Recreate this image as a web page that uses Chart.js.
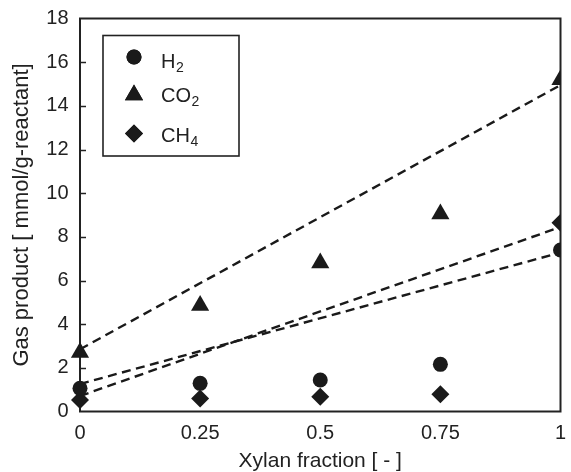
<!DOCTYPE html>
<html>
<head>
<meta charset="utf-8">
<script src="https://cdn.jsdelivr.net/npm/chart.js@4.4.1/dist/chart.umd.min.js"></script>
<style>
  html, body { margin: 0; padding: 0; background: #fff; }
  #wrap { width: 571px; height: 472px; }
</style>
</head>
<body>
<div id="wrap"><canvas id="c" width="571" height="472"></canvas></div>
<script>
// ---- data ----
const xylanFraction = [0, 0.25, 0.5, 0.75, 1];
const h2  = [1.06, 1.29, 1.44, 2.16, 7.4];
const co2 = [2.7, 4.86, 6.8, 9.05, 15.2];
const ch4 = [0.53, 0.6, 0.68, 0.79, 8.65];
// dashed model lines (values at x = 0 and x = 1)
const lineX = [0, 1];
const h2Line  = [1.26, 7.28];
const co2Line = [2.85, 14.95];
const ch4Line = [0.71, 8.45];
const xTicks = [0, 0.25, 0.5, 0.75, 1];
const xTickLabels = ['0', '0.25', '0.5', '0.75', '1'];
const yTicks = [0, 2, 4, 6, 8, 10, 12, 14, 16, 18];
const seriesNames = ['H|2', 'CO|2', 'CH|4'];
const xTitle = 'Xylan fraction [ - ]';
const yTitle = 'Gas product [ mmol/g-reactant]';

const INK = '#1a1a1a';
const FONT = '"Liberation Sans", Arial, Helvetica, sans-serif';

function pts(xs, ys) { return xs.map((x, i) => ({ x: x, y: ys[i] })); }

const markerDefs = [
  { style: 'circle', radius: 7.5 },
  { style: 'triangle', radius: 10.5 },
  { style: 'rectRot', radius: 9 }
];

function pointSet(label, data, m) {
  return {
    type: 'scatter', label: label, data: pts(xylanFraction, data),
    pointStyle: m.style, pointRadius: m.radius, pointHoverRadius: m.radius,
    pointBackgroundColor: INK, pointBorderColor: INK, pointBorderWidth: 0,
    showLine: false, clip: { left: false, top: false, right: 0, bottom: false }, order: 0
  };
}
function lineSet(label, data) {
  return {
    type: 'line', label: label, data: pts(lineX, data),
    borderColor: INK, borderWidth: 2.4, borderDash: [9, 5.5],
    pointRadius: 0, fill: false, tension: 0, order: 1
  };
}

const frame = {
  id: 'frame',
  beforeDatasetsDraw(chart) {
    const a = chart.chartArea, ctx = chart.ctx, y = chart.scales.y;
    ctx.save();
    ctx.strokeStyle = '#222';
    ctx.lineWidth = 2;
    ctx.strokeRect(a.left, a.top, a.right - a.left, a.bottom - a.top);
    ctx.lineWidth = 1.5;
    yTicks.forEach(v => {
      if (v === yTicks[0] || v === yTicks[yTicks.length - 1]) return;
      const py = Math.round(y.getPixelForValue(v)) + 0.5;
      ctx.beginPath();
      ctx.moveTo(a.left, py);
      ctx.lineTo(a.left + 6, py);
      ctx.stroke();
    });
    ctx.restore();
  }
};

const legendBox = {
  id: 'legendBox',
  afterDraw(chart) {
    const ctx = chart.ctx;
    ctx.save();
    ctx.strokeStyle = '#222';
    ctx.lineWidth = 1.6;
    ctx.strokeRect(103, 35.5, 136, 120.5);
    const rows = [57, 95, 133.5];
    const textY = [62, 96, 136];
    seriesNames.forEach((name, i) => {
      const m = markerDefs[i];
      ctx.fillStyle = INK;
      ctx.strokeStyle = INK;
      if (Chart.helpers && Chart.helpers.drawPoint) {
        Chart.helpers.drawPoint(ctx, { pointStyle: m.style, radius: m.radius, rotation: 0, borderWidth: 0 }, 134, rows[i]);
        ctx.fill();
      }
      const parts = name.split('|');
      ctx.fillStyle = '#222';
      ctx.textBaseline = 'middle';
      ctx.textAlign = 'left';
      ctx.font = '20px ' + FONT;
      ctx.fillText(parts[0], 161, textY[i]);
      const w = ctx.measureText(parts[0]).width;
      ctx.font = '14px ' + FONT;
      ctx.fillText(parts[1], 161 + w + 0.5, textY[i] + 6);
    });
    ctx.restore();
  }
};

new Chart(document.getElementById('c'), {
  data: {
    datasets: [
      pointSet('H2', h2, markerDefs[0]),
      pointSet('CO2', co2, markerDefs[1]),
      pointSet('CH4', ch4, markerDefs[2]),
      lineSet('H2 model', h2Line),
      lineSet('CO2 model', co2Line),
      lineSet('CH4 model', ch4Line)
    ]
  },
  options: {
    responsive: false,
    animation: false,
    events: [],
    layout: { padding: { top: 18.5, right: 6, left: 0, bottom: 0 } },
    plugins: { legend: { display: false }, tooltip: { enabled: false } },
    scales: {
      x: {
        type: 'linear', min: 0, max: 1,
        afterBuildTicks: s => { s.ticks = xTicks.map(v => ({ value: v })); },
        afterFit: s => { s.height = 60.5; s.paddingLeft = 0; s.paddingRight = 0; },
        grid: { display: false, drawTicks: false },
        border: { display: false },
        ticks: {
          color: '#222', font: { family: FONT, size: 20 }, padding: 10, maxRotation: 0,
          callback: (v) => { const i = xTicks.indexOf(v); return i >= 0 ? xTickLabels[i] : ''; }
        },
        title: { display: true, text: xTitle, color: '#222', font: { family: FONT, size: 21, lineHeight: 1.0 }, padding: { top: 0, bottom: 0 } }
      },
      y: {
        type: 'linear', min: 0, max: 18,
        afterBuildTicks: s => { s.ticks = yTicks.map(v => ({ value: v })); },
        afterFit: s => { s.width = 80; s.paddingTop = 0; s.paddingBottom = 0; },
        grid: { display: false, drawTicks: false },
        border: { display: false },
        ticks: { color: '#222', font: { family: FONT, size: 20 }, padding: 11.5 },
        title: { display: true, text: yTitle, color: '#222', font: { family: FONT, size: 22 }, padding: { top: 9, bottom: 0 } }
      }
    }
  },
  plugins: [frame, legendBox]
});
</script>
</body>
</html>
